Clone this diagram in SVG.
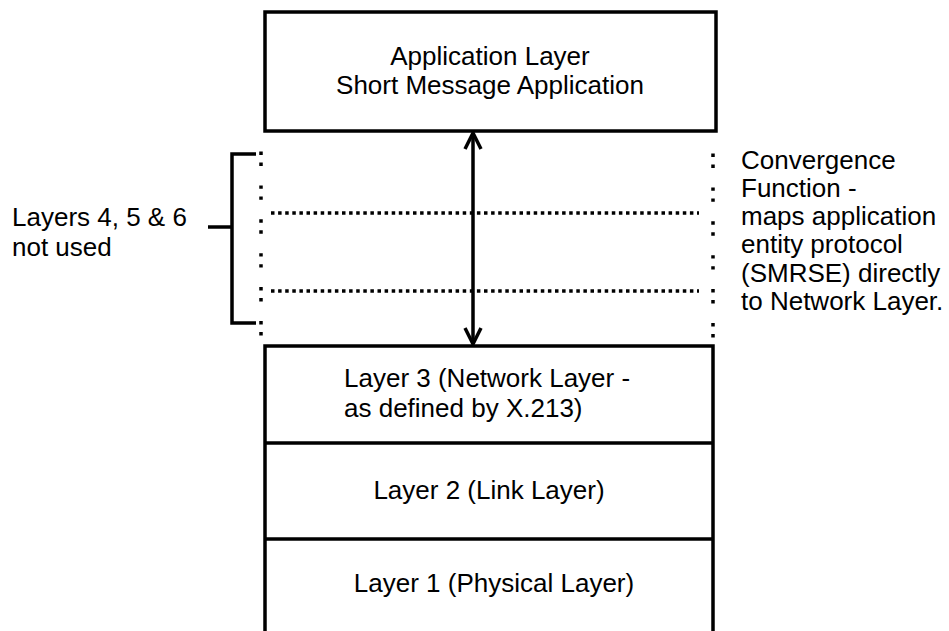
<svg xmlns="http://www.w3.org/2000/svg" width="949" height="631" viewBox="0 0 949 631">
<style>
text{font-family:"Liberation Sans",Arial,sans-serif;font-size:26px;fill:#000}
.box{fill:none;stroke:#000;stroke-width:3.5}
.ln{fill:none;stroke:#000;stroke-width:3.5}
.vdot{fill:none;stroke:#000;stroke-width:3.5;stroke-dasharray:3.4 7.6 3.4 19.5}
.hdot{fill:none;stroke:#000;stroke-width:3.5;stroke-dasharray:3.5 3.6}
.c{text-anchor:middle}
</style>
<defs>
<marker id="ah" viewBox="0 0 20 20" refX="19" refY="10" markerWidth="20" markerHeight="20" markerUnits="userSpaceOnUse" orient="auto-start-reverse">
<path d="M3,2 L19,10 L3,18" fill="none" stroke="#000" stroke-width="3.5"/>
</marker>
</defs>
<g id="app-layer">
<rect class="box" x="265" y="12" width="451" height="119"/>
<text class="c" x="490" y="65">Application Layer</text>
<text class="c" x="490" y="94">Short Message Application</text>
</g>
<g id="layer3">
<path class="ln" d="M265,631 V346 H713 V631"/>
<line class="ln" x1="265" y1="443" x2="713" y2="443"/>
<text x="344" y="387">Layer 3 (Network Layer -</text>
<text x="344" y="417">as defined by X.213)</text>
</g>
<g id="layer2">
<line class="ln" x1="265" y1="539" x2="713" y2="539"/>
<text class="c" x="489" y="499">Layer 2 (Link Layer)</text>
</g>
<g id="layer1">
<text class="c" x="494" y="592">Layer 1 (Physical Layer)</text>
</g>
<g id="layers-456">
<line class="vdot" x1="261" y1="151.5" x2="261" y2="336"/>
<line class="vdot" x1="713" y1="153.5" x2="713" y2="338"/>
<line class="hdot" x1="271" y1="213" x2="699" y2="213"/>
<line class="hdot" x1="271" y1="291" x2="699" y2="291"/>
</g>
<g id="bracket">
<path class="ln" d="M256,154 H232 V323 H256"/>
<line class="ln" x1="208" y1="227" x2="232" y2="227"/>
<text x="12" y="226">Layers 4, 5 &amp; 6</text>
<text x="12" y="256">not used</text>
</g>
<g id="convergence-note">
<text x="741" y="169">Convergence</text>
<text x="741" y="197">Function -</text>
<text x="741" y="225">maps application</text>
<text x="741" y="253">entity protocol</text>
<text x="741" y="282">(SMRSE) directly</text>
<text x="741" y="310">to Network Layer.</text>
</g>
<g id="connectors">
<line class="ln" x1="473" y1="133" x2="473" y2="344" marker-start="url(#ah)" marker-end="url(#ah)"/>
</g>
</svg>
